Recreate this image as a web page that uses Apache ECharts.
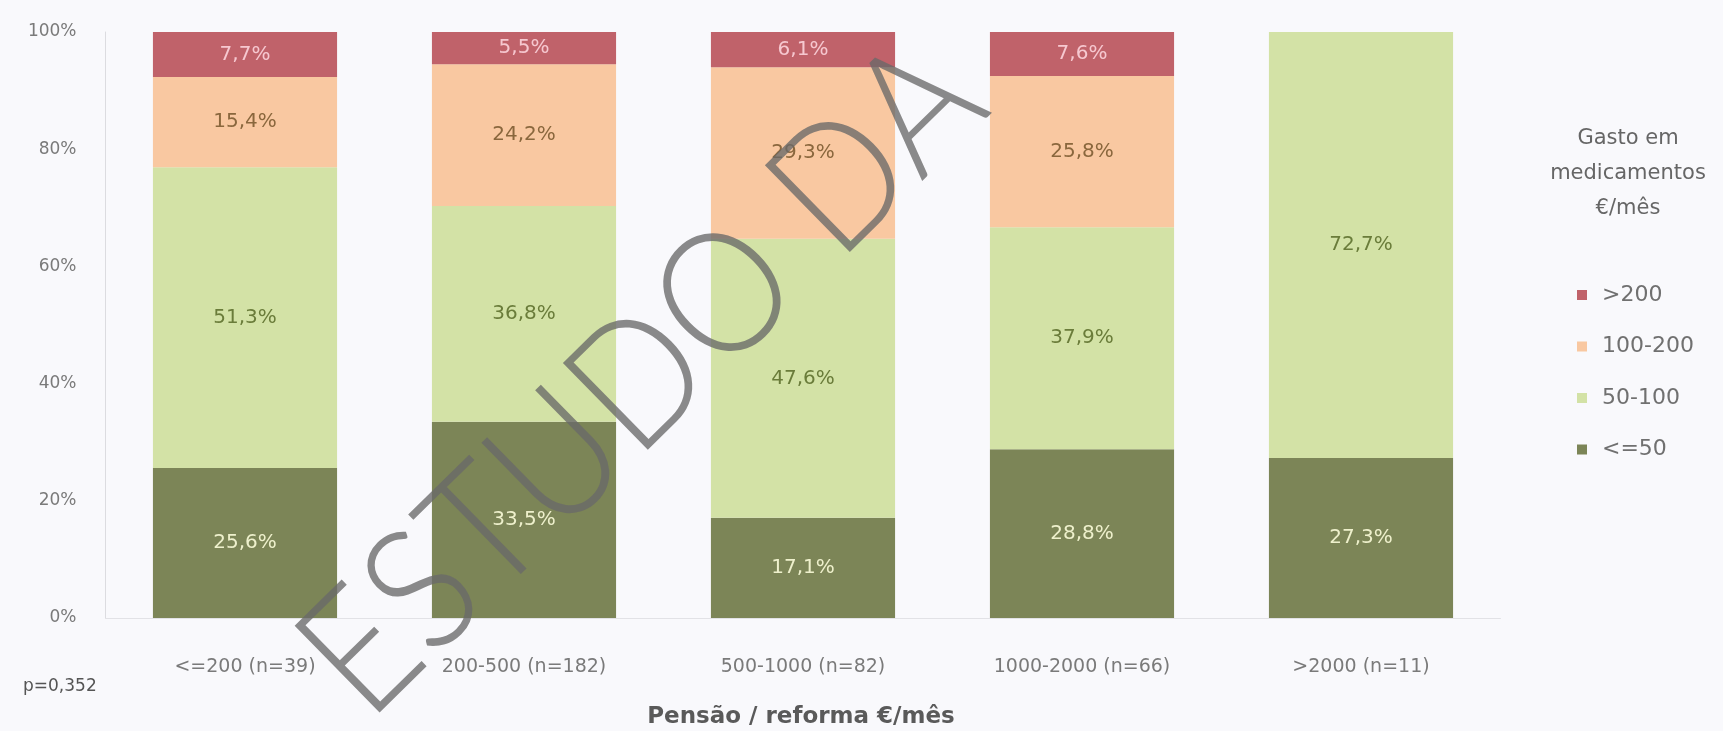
<!DOCTYPE html>
<html>
<head>
<meta charset="utf-8">
<script src="https://cdn.jsdelivr.net/npm/echarts@6/dist/echarts.min.js"></script>
<style>
  html, body { margin: 0; padding: 0; background: #f9f9fc; }
  #chart { width: 1723px; height: 731px; }
</style>
</head>
<body>
<div id="chart"></div>
<script>
const categories = ['<=200 (n=39)', '200-500 (n=182)', '500-1000 (n=82)', '1000-2000 (n=66)', '>2000 (n=11)'];
const seriesNames = ['<=50', '50-100', '100-200', '>200'];
const le50 = [25.6, 33.5, 17.1, 28.8, 27.3];
const r50to100 = [51.3, 36.8, 47.6, 37.9, 72.7];
const r100to200 = [15.4, 24.2, 29.3, 25.8, 0];
const gt200 = [7.7, 5.5, 6.1, 7.6, 0];
const yTicks = [0, 20, 40, 60, 80, 100];
const legendTitle = ['Gasto em', 'medicamentos', '€/mês'];
const xTitle = 'Pensão / reforma €/mês';
const pValue = 'p=0,352';
const watermark = 'ESTUDO DA';

const FONT = 'DejaVu Sans';
const barColors = ['#7c8557', '#d3e2a6', '#f9c8a1', '#c0626a'];
const labelColors = ['#eef0cc', '#6a7c3a', '#8a673d', '#f6c8d0'];
const seriesData = [le50, r50to100, r100to200, gt200];

const fmt = p => p.value ? p.value.toFixed(1).replace('.', ',') + '%' : '';

const chart = echarts.init(document.getElementById('chart'), null, { renderer: 'canvas' });

const series = seriesNames.map((name, i) => ({
  name: name,
  type: 'bar',
  stack: 'total',
  barWidth: '66%',
  data: seriesData[i],
  itemStyle: { color: barColors[i] },
  label: {
    show: true,
    position: 'inside',
    formatter: fmt,
    color: labelColors[i],
    fontFamily: FONT,
    fontSize: 20
  },
  emphasis: { disabled: true }
}));

const graphics = [];
legendTitle.forEach((t, i) => {
  graphics.push({
    type: 'text', x: 1628, y: 139 + i * 35, z: 10,
    style: { text: t, fill: '#666666', font: '21px "' + FONT + '"', textAlign: 'center', verticalAlign: 'middle', textVerticalAlign: 'middle' }
  });
});
graphics.push({
  type: 'text', x: 801, y: 717, z: 10,
  style: { text: xTitle, fill: '#5a5a5a', font: 'bold 23px "' + FONT + '"', textAlign: 'center', verticalAlign: 'middle', textVerticalAlign: 'middle' }
});
graphics.push({
  type: 'text', x: 23, y: 687, z: 10,
  style: { text: pValue, fill: '#555555', font: '17px "' + FONT + '"', textAlign: 'left', verticalAlign: 'middle', textVerticalAlign: 'middle' }
});
graphics.push({
  type: 'text', x: 642, y: 378, z: 100, rotation: 0.775, scaleX: 0.94, scaleY: 1.04,
  style: { text: watermark, fill: 'rgba(105,105,105,0.78)', font: '300 165px Lato', textAlign: 'center', verticalAlign: 'middle', textVerticalAlign: 'middle' }
});

chart.setOption({
  backgroundColor: '#f9f9fc',
  animation: false,
  textStyle: { fontFamily: FONT },
  grid: { left: 105.5, right: 222.5, top: 32, bottom: 113, containLabel: false, outerBoundsMode: 'none' },
  legend: {
    orient: 'vertical',
    left: 1577,
    top: 284,
    padding: 0,
    data: ['>200', '100-200', '50-100', '<=50'],
    icon: 'path://M0,0h10v10h-10z',
    symbolKeepAspect: true,
    itemWidth: 30,
    itemHeight: 10,
    itemGap: 29.5,
    selectedMode: false,
    textStyle: { color: '#707070', fontFamily: FONT, fontSize: 22, lineHeight: 22 }
  },
  xAxis: {
    type: 'category',
    data: categories,
    axisLine: { show: true, lineStyle: { color: '#e2e2e6', width: 1 } },
    axisTick: { show: false },
    axisLabel: { color: '#7a7a7a', fontFamily: FONT, fontSize: 19, margin: 40, interval: 0 },
    splitLine: { show: false }
  },
  yAxis: {
    type: 'value',
    min: 0,
    max: 100,
    interval: 20,
    axisLine: { show: true, lineStyle: { color: '#dcdce0', width: 1 } },
    axisTick: { show: false },
    splitLine: { show: false },
    axisLabel: {
      color: '#7a7a7a', fontFamily: FONT, fontSize: 17, margin: 29,
      formatter: v => (yTicks.indexOf(v) >= 0 ? v + '%' : '')
    }
  },
  series: series,
  graphic: graphics
});
</script>
</body>
</html>
